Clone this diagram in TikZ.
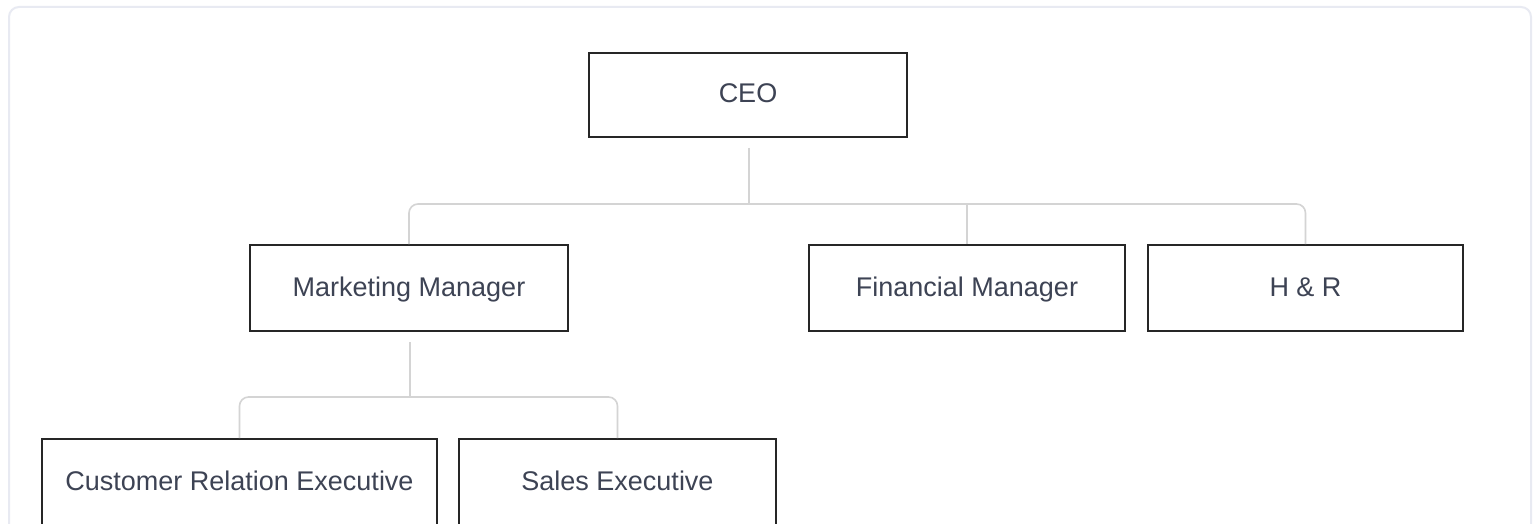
\documentclass[tikz,border=0pt]{standalone}
\usepackage{fontspec}
\setmainfont{Liberation Sans}
\definecolor{txt}{HTML}{3D4354}
\definecolor{conncol}{HTML}{D4D4D4}
\definecolor{framecol}{HTML}{E8EAF2}
\definecolor{boxcol}{HTML}{262626}
\begin{document}
\begin{tikzpicture}[x=1pt,y=-1pt,
  box/.style={draw=boxcol, line width=1.8pt, fill=white, minimum height=86pt, inner sep=0pt,
    font=\fontsize{27}{31}\selectfont, text=txt, text height=19pt, text depth=3pt},
  conn/.style={draw=conncol, line width=1.6pt, rounded corners=9pt}]
\useasboundingbox (0,0) rectangle (1537,524);
\clip (0,0) rectangle (1537,524);
\fill[white] (0,0) rectangle (1537,524);
\draw[framecol, line width=2pt, rounded corners=10pt] (9,7) rectangle (1531,560);
% nodes
\node[box, minimum width=318pt, minimum height=84pt] (ceo) at (748,95) {CEO};
\node[box, minimum width=318pt] (mm) at (409,288) {Marketing Manager};
\node[box, minimum width=316pt] (fm) at (967,288) {Financial Manager};
\node[box, minimum width=315pt] (hr) at (1305.5,288) {H \& R};
\node[box, minimum width=395pt] (cre) at (239.5,482) {Customer Relation Executive};
\node[box, minimum width=317pt] (se) at (617.5,482) {Sales Executive};
% junctions
\coordinate (j1) at (749,204);
\coordinate (j2) at (410,397);
\coordinate (s1) at (749,148);
\coordinate (s2) at (410,342);
% connectors
\draw[conn] (s1) -- (j1);
\draw[conn] (mm.north) |- (j1) -| (hr.north);
\draw[conn] (fm.north) -- (fm.north |- j1);
\draw[conn] (s2) -- (j2);
\draw[conn] (cre.north) |- (j2) -| (se.north);
\end{tikzpicture}
\end{document}
